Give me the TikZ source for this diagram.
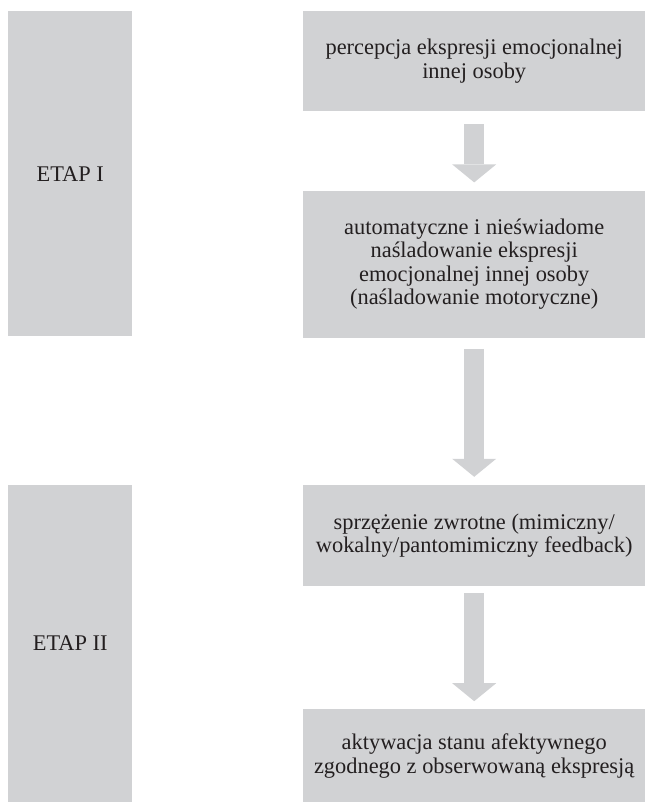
\documentclass[tikz,border=0pt]{standalone}
\usepackage{fontspec}
\setmainfont{Liberation Serif}
\usepackage{xcolor}
\usepackage{tikz}
\usetikzlibrary{arrows.meta, positioning}

\definecolor{panelgray}{RGB}{209,210,212}
\definecolor{inkgray}{RGB}{35,31,32}

\begin{document}
\begin{tikzpicture}[
    every node/.style={font=\fontsize{22.4}{23.6}\selectfont, text=inkgray},
    stage/.style={rectangle, fill=panelgray, minimum width=124pt, minimum height=#1, inner sep=0pt, align=center},
    stepbox/.style={rectangle, fill=panelgray, minimum width=342pt, minimum height=#1, inner sep=0pt, align=center},
    flow/.style={draw=panelgray, line width=20pt, -{Triangle[width=44pt, length=18pt, line width=0pt]}, shorten >=8pt}
]

\useasboundingbox (0,0) rectangle (645pt,-803pt);

% Stages
\node[stage=325pt, anchor=north west] (etap1) at (8pt,-11pt) {ETAP I};
\node[stage=317pt, below=148pt of etap1] (etap2) {ETAP II};

% Steps
\node[stepbox=100pt, anchor=north west] (percepcja) at (303pt,-11pt) {percepcja ekspresji emocjonalnej\\innej osoby};
\node[stepbox=147pt, below=79pt of percepcja] (nasladowanie) {automatyczne i nieświadome\\naśladowanie ekspresji\\emocjonalnej innej osoby\\(naśladowanie motoryczne)};
\node[stepbox=101pt, below=147pt of nasladowanie] (sprzezenie) {sprzężenie zwrotne (mimiczny/\\wokalny/pantomimiczny feedback)};
\node[stepbox=93pt, below=123pt of sprzezenie] (aktywacja) {aktywacja stanu afektywnego\\zgodnego z obserwowaną ekspresją};

% Arrows
\draw[flow, shorten <=13pt] (percepcja) -- (nasladowanie);
\draw[flow, shorten <=11pt] (nasladowanie) -- (sprzezenie);
\draw[flow, shorten <=7pt] (sprzezenie) -- (aktywacja);

\end{tikzpicture}
\end{document}
